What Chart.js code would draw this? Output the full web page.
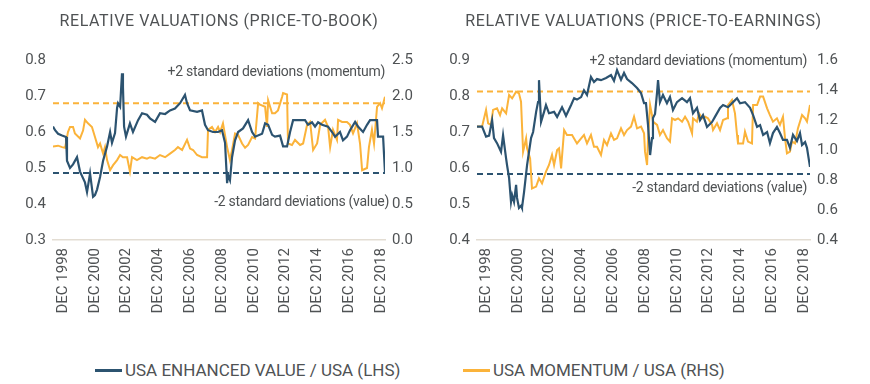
<!DOCTYPE html>
<html><head><meta charset="utf-8">
<script src="https://cdn.jsdelivr.net/npm/chart.js@4.4.1/dist/chart.umd.min.js"></script>
<style>
html,body{margin:0;padding:0;background:#fff;width:870px;height:384px;overflow:hidden;font-family:Roboto,sans-serif;}
#wrap{position:relative;width:870px;height:384px;}
.c{position:absolute;top:0;width:435px;height:340px;}
#legend{position:absolute;top:360px;left:0;width:870px;height:20px;font:17px Roboto,sans-serif;color:#4f5254;}
.item{position:absolute;top:0;display:flex;align-items:center;height:20px;white-space:nowrap;}
.sw{width:27px;height:3px;margin-right:3px;}
</style></head>
<body><div id="wrap">
<div class="c" style="left:0"><canvas id="pb" width="435" height="340"></canvas></div>
<div class="c" style="left:435px"><canvas id="pe" width="435" height="340"></canvas></div>
<div id="legend">
<div class="item" style="left:95px"><span class="sw" style="background:#2c5370"></span><span id="lg1"></span></div>
<div class="item" style="left:463px"><span class="sw" style="background:#fbb33a"></span><span id="lg2"></span></div>
</div>
</div>
<script>
// ---------- DATA ----------
const tickYears = [1998, 2000, 2002, 2004, 2006, 2008, 2010, 2012, 2014, 2016, 2018];
const tickLabels = ['DEC 1998','DEC 2000','DEC 2002','DEC 2004','DEC 2006','DEC 2008','DEC 2010','DEC 2012','DEC 2014','DEC 2016','DEC 2018'];
const seriesNames = ['USA ENHANCED VALUE / USA (LHS)', 'USA MOMENTUM / USA (RHS)'];
const chartTitles = ['RELATIVE VALUATIONS (PRICE-TO-BOOK)', 'RELATIVE VALUATIONS (PRICE-TO-EARNINGS)'];
const noteUpper = '+2 standard deviations (momentum)';
const noteLower = '-2 standard deviations (value)';

// Price-to-book: enhanced value / USA (LHS)
const pbValueDates = [1998.29,1998.42,1998.61,1998.86,1999.11,1999.17,1999.36,1999.55,1999.80,1999.99,2000.30,2000.43,2000.62,2000.81,2000.93,2001.06,2001.25,2001.44,2001.69,2001.88,2002.00,2002.19,2002.32,2002.38,2002.51,2002.63,2002.69,2002.76,2002.88,2003.13,2003.32,2003.64,2003.89,2004.20,2004.39,2004.71,2005.02,2005.34,2005.65,2005.96,2006.28,2006.59,2006.72,2006.91,2007.35,2007.66,2007.85,2008.04,2008.35,2008.67,2008.92,2009.11,2009.24,2009.30,2009.42,2009.55,2009.74,2009.93,2010.24,2010.56,2010.81,2011.00,2011.44,2011.63,2011.82,2012.07,2012.25,2012.57,2012.76,2013.01,2013.20,2013.39,2013.70,2014.14,2014.33,2014.58,2014.77,2014.96,2015.21,2015.59,2015.84,2016.03,2016.34,2016.53,2016.78,2016.97,2017.29,2017.47,2017.79,2018.04,2018.23,2018.67,2018.73,2019.05,2019.17];
const pbValue = [0.615,0.605,0.595,0.59,0.586,0.52,0.50,0.51,0.53,0.49,0.46,0.433,0.485,0.42,0.425,0.44,0.475,0.52,0.56,0.60,0.57,0.597,0.667,0.68,0.67,0.763,0.725,0.615,0.587,0.624,0.60,0.633,0.652,0.648,0.638,0.628,0.652,0.65,0.66,0.665,0.68,0.703,0.68,0.66,0.656,0.66,0.62,0.605,0.60,0.60,0.605,0.57,0.458,0.48,0.466,0.53,0.577,0.60,0.61,0.633,0.60,0.587,0.595,0.624,0.62,0.592,0.587,0.59,0.56,0.56,0.60,0.633,0.633,0.633,0.62,0.627,0.615,0.627,0.62,0.615,0.60,0.587,0.60,0.577,0.587,0.605,0.628,0.615,0.60,0.62,0.633,0.633,0.587,0.587,0.486];
// Price-to-book: momentum / USA (RHS)
const pbMomDates = [1998.29,1998.61,1998.86,1999.05,1999.23,1999.36,1999.55,1999.67,1999.99,2000.18,2000.30,2000.49,2000.74,2000.93,2001.12,2001.25,2001.44,2001.56,2001.69,2001.88,2002.07,2002.32,2002.51,2002.69,2002.95,2003.13,2003.26,2003.57,2003.89,2004.20,2004.39,2004.71,2005.02,2005.34,2005.65,2005.96,2006.15,2006.41,2006.72,2006.91,2007.10,2007.35,2007.66,2007.98,2008.04,2008.29,2008.48,2008.67,2008.80,2008.98,2009.24,2009.42,2009.55,2009.74,2009.93,2010.18,2010.37,2010.56,2010.81,2011.00,2011.19,2011.31,2011.63,2011.75,2011.82,2012.07,2012.25,2012.44,2012.70,2012.76,2013.01,2013.07,2013.32,2013.51,2013.83,2014.02,2014.27,2014.46,2014.65,2014.90,2015.09,2015.40,2015.59,2015.72,2015.90,2016.15,2016.22,2016.47,2016.78,2016.97,2017.16,2017.41,2017.60,2017.73,2018.04,2018.16,2018.35,2018.48,2018.67,2018.86,2018.98,2019.17];
const pbMom = [1.30,1.31,1.29,1.28,1.50,1.57,1.57,1.48,1.41,1.52,1.67,1.62,1.57,1.43,1.29,1.34,1.20,1.29,1.11,0.97,1.04,1.11,1.18,1.15,1.15,0.95,1.15,1.11,1.15,1.13,1.15,1.13,1.18,1.15,1.20,1.25,1.29,1.25,1.39,1.27,1.25,1.18,1.15,1.15,1.53,1.57,1.50,1.57,1.50,1.62,1.29,1.11,1.25,1.48,1.46,1.34,1.28,1.32,1.43,1.41,1.90,1.88,1.85,1.57,1.94,1.76,1.76,1.80,1.99,2.04,2.02,1.34,1.32,1.39,1.32,1.34,1.60,1.64,1.25,1.34,1.60,1.67,1.57,1.29,1.53,1.39,1.67,1.64,1.64,1.60,1.48,1.62,1.34,0.97,1.00,1.29,1.53,1.34,1.85,1.90,1.83,1.99];
const pbBands = { momentumRHS: 1.90, valueLHS: 0.486 };

// Price-to-earnings: enhanced value / USA (LHS)
const peValueDates = [1998.35,1998.67,1998.92,1999.11,1999.30,1999.42,1999.61,1999.86,1999.99,2000.18,2000.24,2000.37,2000.49,2000.56,2000.68,2000.81,2000.87,2000.99,2001.12,2001.18,2001.31,2001.50,2001.75,2001.88,2002.07,2002.19,2002.25,2002.38,2002.57,2002.69,2002.88,2003.20,2003.39,2003.70,2003.95,2004.27,2004.46,2004.64,2004.90,2005.08,2005.27,2005.52,2005.71,2005.90,2006.15,2006.47,2006.78,2006.97,2007.16,2007.41,2007.60,2007.79,2008.10,2008.42,2008.67,2008.86,2008.98,2009.11,2009.24,2009.36,2009.42,2009.55,2009.68,2009.74,2009.86,2010.05,2010.30,2010.49,2010.68,2010.93,2011.25,2011.56,2011.75,2011.94,2012.19,2012.38,2012.57,2012.82,2013.14,2013.32,2013.64,2013.83,2014.14,2014.46,2014.71,2014.90,2015.21,2015.53,2015.72,2015.97,2016.16,2016.35,2016.60,2016.78,2016.97,2017.22,2017.41,2017.60,2017.85,2018.04,2018.23,2018.48,2018.67,2018.80,2018.99,2019.11,2019.30];
const peValue = [0.715,0.715,0.687,0.69,0.733,0.683,0.669,0.645,0.691,0.627,0.608,0.572,0.506,0.525,0.506,0.553,0.517,0.489,0.495,0.489,0.533,0.608,0.683,0.70,0.756,0.783,0.844,0.728,0.756,0.775,0.752,0.756,0.742,0.769,0.745,0.775,0.794,0.79,0.797,0.816,0.803,0.853,0.839,0.847,0.844,0.85,0.858,0.842,0.872,0.845,0.864,0.847,0.836,0.822,0.808,0.78,0.78,0.719,0.636,0.683,0.739,0.75,0.811,0.844,0.783,0.803,0.78,0.797,0.761,0.783,0.794,0.783,0.794,0.752,0.767,0.733,0.747,0.714,0.728,0.742,0.767,0.775,0.769,0.783,0.794,0.78,0.783,0.767,0.747,0.714,0.719,0.692,0.70,0.669,0.697,0.714,0.697,0.678,0.678,0.656,0.692,0.675,0.697,0.664,0.672,0.656,0.603];
// Price-to-earnings: momentum / USA (RHS)
const peMomDates = [1998.35,1998.67,1998.92,1999.05,1999.23,1999.36,1999.61,1999.80,1999.93,2000.18,2000.37,2000.56,2000.81,2000.99,2001.12,2001.25,2001.44,2001.50,2001.69,2001.81,2002.07,2002.25,2002.44,2002.69,2002.88,2003.07,2003.20,2003.39,2003.51,2003.64,2003.83,2004.01,2004.33,2004.64,2004.90,2005.08,2005.27,2005.52,2005.71,2005.90,2006.15,2006.34,2006.53,2006.78,2006.97,2007.16,2007.41,2007.60,2007.79,2008.04,2008.23,2008.42,2008.67,2008.86,2008.92,2009.05,2009.11,2009.24,2009.36,2009.42,2009.68,2009.86,2010.05,2010.30,2010.49,2010.62,2010.81,2011.00,2011.25,2011.44,2011.63,2011.88,2011.94,2012.19,2012.32,2012.51,2012.70,2012.88,2013.14,2013.20,2013.45,2013.64,2013.83,2014.08,2014.14,2014.39,2014.58,2014.71,2014.77,2015.09,2015.21,2015.40,2015.65,2015.72,2015.97,2016.16,2016.35,2016.60,2016.78,2016.97,2017.22,2017.41,2017.60,2017.73,2017.85,2018.04,2018.17,2018.36,2018.54,2018.80,2018.99,2019.11,2019.30];
const peMom = [1.156,1.156,1.267,1.178,1.167,1.267,1.278,1.233,1.278,1.244,1.367,1.344,1.389,1.378,1.322,0.989,1.078,1.011,0.944,0.744,0.756,0.811,0.778,0.856,0.90,0.967,0.90,1.00,1.011,0.878,1.133,1.10,1.10,1.044,1.078,1.10,1.044,1.10,1.022,1.022,0.967,1.067,1.033,1.111,1.067,1.078,1.144,1.10,1.133,1.156,1.222,1.144,1.156,1.111,0.989,0.90,1.078,1.30,1.233,1.189,1.167,1.10,1.133,1.078,1.056,1.211,1.20,1.211,1.189,1.222,1.189,1.111,1.211,1.189,1.244,1.211,1.222,1.211,1.167,1.133,1.178,1.133,1.20,1.211,1.30,1.333,1.244,1.10,1.044,1.044,1.122,1.056,1.044,1.30,1.30,1.356,1.356,1.278,1.233,1.189,1.211,1.167,1.222,1.078,0.978,0.989,1.056,1.044,1.144,1.233,1.211,1.189,1.30];
const peBands = { momentumRHS: 1.39, valueLHS: 0.583 };

// ---------- STYLE ----------
const BLUE = '#2c5370', ORANGE = '#fbb33a', TXT = '#4f5254';
const FONT = 'Roboto, sans-serif';
document.getElementById('lg1').textContent = seriesNames[0];
document.getElementById('lg2').textContent = seriesNames[1];

const pts = (d, v) => d.map((x, i) => ({ x, y: v[i] }));

const decoPlugin = {
  id: 'deco',
  afterDraw(chart, args, o) {
    const { ctx, chartArea: a } = chart;
    ctx.save();
    ctx.fillStyle = TXT;
    ctx.textBaseline = 'middle';
    // title
    ctx.font = '16px ' + FONT;
    ctx.letterSpacing = '0.6px';
    ctx.textAlign = 'center';
    ctx.fillText(o.title, (a.left + a.right) / 2, o.titleY);
    ctx.font = '14px ' + FONT;
    ctx.letterSpacing = '-0.3px';
    ctx.textAlign = 'right';
    ctx.fillText(o.upper, a.right + o.upperDx, a.top + o.upperDy);
    ctx.fillText(o.lower, a.right + o.lowerDx, a.top + o.lowerDy);
    ctx.letterSpacing = '0px';
    ctx.restore();
  }
};

function makeChart(id, cfg) {
  const xMin = Math.min(cfg.vDates[0], cfg.mDates[0]);
  const xMax = Math.max(cfg.vDates[cfg.vDates.length - 1], cfg.mDates[cfg.mDates.length - 1]);
  const fitW = w => s => { s.width = w; };
  return new Chart(document.getElementById(id), {
    type: 'line',
    data: {
      datasets: [
        { data: pts(cfg.vDates, cfg.vVals), yAxisID: 'yL', borderColor: BLUE, borderWidth: 2.2 },
        { data: pts(cfg.mDates, cfg.mVals), yAxisID: 'yR', borderColor: ORANGE, borderWidth: 2 },
        { data: [{ x: xMin, y: cfg.bands.valueLHS }, { x: xMax, y: cfg.bands.valueLHS }], yAxisID: 'yL', borderColor: BLUE, borderWidth: 2, borderDash: [6, 4] },
        { data: [{ x: xMin, y: cfg.bands.momentumRHS }, { x: xMax, y: cfg.bands.momentumRHS }], yAxisID: 'yR', borderColor: ORANGE, borderWidth: 2, borderDash: [6, 4] }
      ]
    },
    options: {
      responsive: false,
      animation: false,
      events: [],
      elements: { point: { radius: 0 }, line: { tension: 0 } },
      layout: { padding: { top: 60, left: 0, right: 0, bottom: 0 } },
      plugins: { legend: { display: false }, tooltip: { enabled: false }, title: { display: false }, deco: cfg.deco },
      scales: {
        x: {
          type: 'linear', min: xMin, max: xMax,
          grid: { display: false, drawTicks: false },
          border: { display: true, color: '#e3ddd3', width: 1.5 },
          afterBuildTicks: s => { s.ticks = tickYears.map(y => ({ value: y + 0.92 })); },
          afterFit: s => { s.height = 100; },
          ticks: {
            autoSkip: false, minRotation: 90, maxRotation: 90, padding: 8,
            color: TXT, font: { family: FONT, size: 15 },
            callback: (v, i) => tickLabels[i]
          }
        },
        yL: {
          position: 'left', min: cfg.yL[0], max: cfg.yL[1],
          grid: { display: false, drawTicks: false }, border: { display: false },
          afterFit: fitW(cfg.wL),
          ticks: { stepSize: cfg.yL[2], padding: 7, color: TXT, font: { family: FONT, size: 15 }, callback: v => v.toFixed(1) }
        },
        yR: {
          position: 'right', min: cfg.yR[0], max: cfg.yR[1],
          grid: { display: false, drawTicks: false }, border: { display: false },
          afterFit: fitW(cfg.wR),
          ticks: { stepSize: cfg.yR[2], padding: 7, color: TXT, font: { family: FONT, size: 15 }, callback: v => v.toFixed(1) }
        }
      }
    },
    plugins: [decoPlugin]
  });
}

makeChart('pb', {
  vDates: pbValueDates, vVals: pbValue, mDates: pbMomDates, mVals: pbMom, bands: pbBands,
  yL: [0.3, 0.8, 0.1], yR: [0, 2.5, 0.5], wL: 53, wR: 50,
  deco: { title: chartTitles[0], titleY: 22, upper: noteUpper, upperDx: 0, upperDy: 12, lower: noteLower, lowerDx: 4, lowerDy: 142 }
});
makeChart('pe', {
  vDates: peValueDates, vVals: peValue, mDates: peMomDates, mVals: peMom, bands: peBands,
  yL: [0.4, 0.9, 0.1], yR: [0.4, 1.6, 0.2], wL: 42, wR: 60,
  deco: { title: chartTitles[1], titleY: 22, upper: noteUpper, upperDx: -3, upperDy: 1, lower: noteLower, lowerDx: -3, lowerDy: 128 }
});
</script>
</body></html>
